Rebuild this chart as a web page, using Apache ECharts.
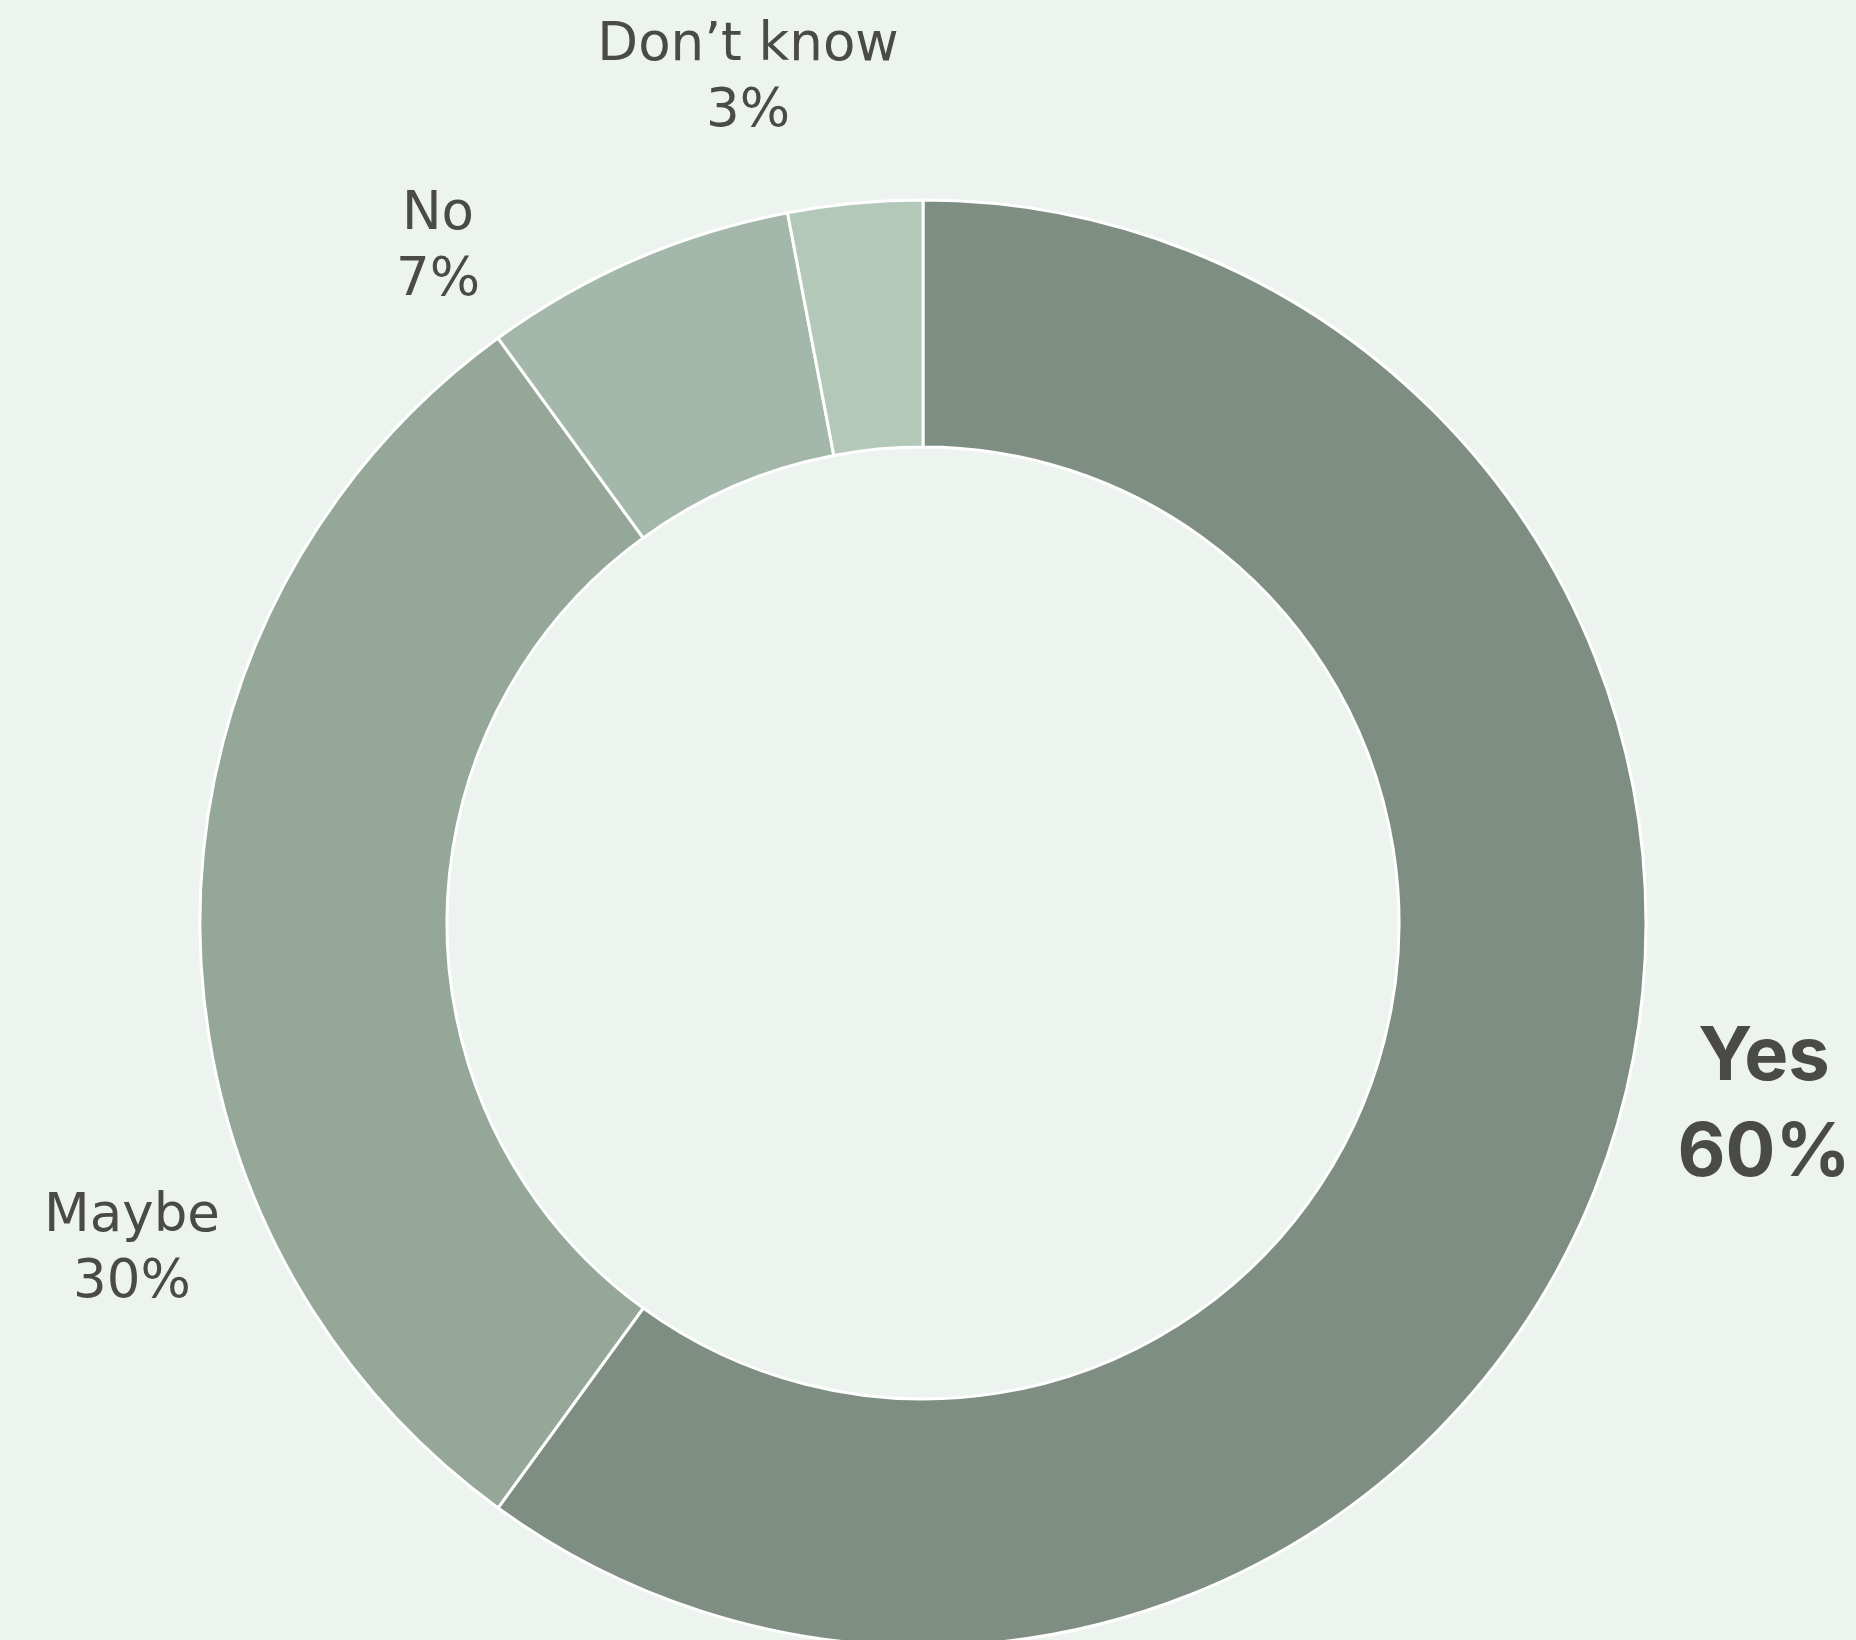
<!DOCTYPE html>
<html lang="en">
<head>
    <meta charset="UTF-8">
    <title>Donut</title>
    <style>
        html, body { margin: 0; padding: 0; background: #edf3ef; }
        #container { width: 1856px; height: 1640px; }
    </style>
</head>
<body>
    <div id="container"></div>
</body>
<script src="https://cdn.jsdelivr.net/npm/echarts@6/dist/echarts.min.js"></script>
<script>
    // data
    var categories = ['Yes', 'Maybe', 'No', "Don\u2019t know"];
    var values = [60, 30, 7, 3];
    var colors = ['#7f8e83', '#94a798', '#a3b8aa', '#b3c8b9'];

    // where each label sits (centre of the text block)
    var labelSpots = {
        'Yes': [1764, 1106],
        'Maybe': [132, 1250],
        'No': [438, 248],
        "Don\u2019t know": [748, 79]
    };

    var seriesData = [];
    for (var i = 0; i < categories.length; i++) {
        var item = {
            name: categories[i],
            value: values[i],
            itemStyle: { color: colors[i] }
        };
        if (categories[i] === 'Yes') {
            item.label = { fontFamily: 'Inter', fontWeight: 'bold', fontSize: 74, lineHeight: 96 };
        }
        seriesData.push(item);
    }

    var myChart = echarts.init(document.getElementById('container'));
    var option = {
        backgroundColor: '#edf3ef',
        animation: false,
        series: [{
            type: 'pie',
            center: [923, 923],
            radius: [476, 723],
            startAngle: 90,
            clockwise: true,
            avoidLabelOverlap: false,
            itemStyle: {
                borderColor: '#ffffff',
                borderWidth: 3
            },
            label: {
                show: true,
                position: 'outside',
                formatter: '{b}\n{c}%',
                fontFamily: 'DejaVu Sans',
                fontSize: 53,
                lineHeight: 66,
                color: '#4a4a47',
                align: 'center'
            },
            labelLine: { show: false },
            labelLayout: function (params) {
                var name = seriesData[params.dataIndex].name;
                var p = labelSpots[name];
                return {
                    x: p[0],
                    y: p[1],
                    align: 'center',
                    verticalAlign: 'middle'
                };
            },
            emphasis: { disabled: true },
            data: seriesData
        }]
    };
    myChart.setOption(option);
</script>
</html>
